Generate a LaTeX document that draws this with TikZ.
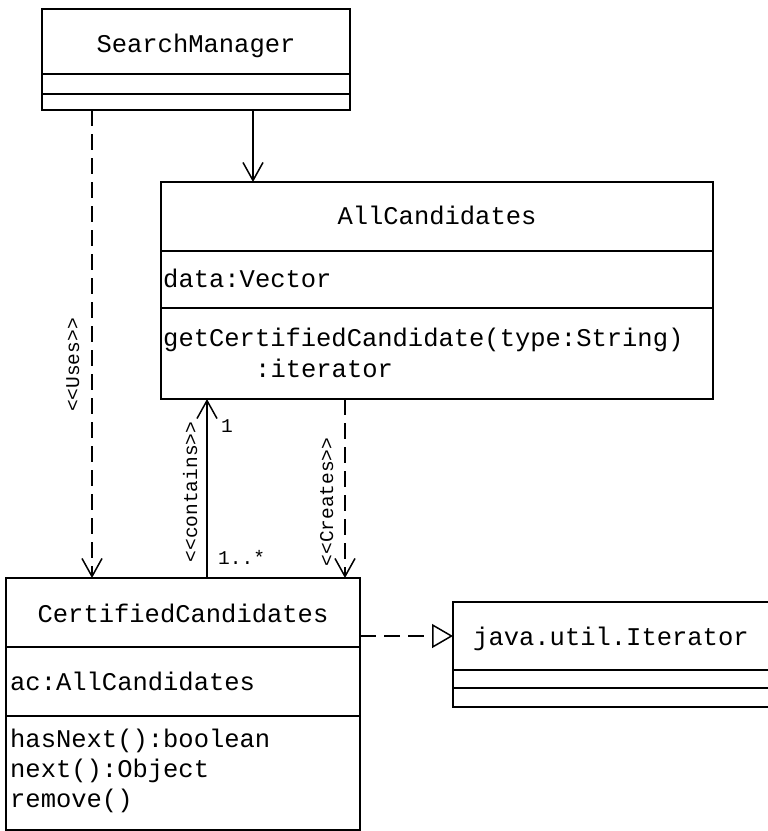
\documentclass[tikz,border=0pt]{standalone}
\usepackage{fontspec}
\newfontfamily\cour{Liberation Mono}
\usetikzlibrary{arrows.meta}
\tikzset{
  umlbox/.style={draw, line width=1.5pt, inner sep=0pt, outer sep=0pt, anchor=north west},
  bigtext/.style={font=\cour\fontsize{25.5pt}{30pt}\selectfont, inner sep=0pt},
  smalltext/.style={font=\cour\fontsize{19.5pt}{23pt}\selectfont, inner sep=0pt},
  assoc/.style={line width=1.5pt, -{Straight Barb[length=18pt,width=20pt,line width=1.5pt]}},
  depend/.style={line width=1.5pt, dash pattern=on 16pt off 8pt, -{Straight Barb[length=18pt,width=20pt,line width=1.5pt]}},
  realize/.style={line width=1.5pt, dash pattern=on 16pt off 8pt, -{Triangle[open,length=21pt,width=24pt,line width=1.5pt]}}
}
\begin{document}
\begin{tikzpicture}[x=1pt,y=-1pt]
\useasboundingbox (0,0) rectangle (768,831);

% SearchManager
\node[umlbox, minimum width=308pt, minimum height=101pt] (sm) at (42,9) {};
\draw[line width=1.5pt] ([yshift=-65pt]sm.north west) -- ([yshift=-65pt]sm.north east);
\draw[line width=1.5pt] ([yshift=-85pt]sm.north west) -- ([yshift=-85pt]sm.north east);
\node[bigtext, anchor=base] (smt) at (196,52.5) {SearchManager};

% AllCandidates
\node[umlbox, minimum width=552pt, minimum height=217pt] (ac) at (161,182) {};
\draw[line width=1.5pt] ([yshift=-69pt]ac.north west) -- ([yshift=-69pt]ac.north east);
\draw[line width=1.5pt] ([yshift=-126pt]ac.north west) -- ([yshift=-126pt]ac.north east);
\node[bigtext, anchor=base] (act) at (437,224) {AllCandidates};
\node[bigtext, anchor=base west] (aca) at (163,287) {data:Vector};
\node[bigtext, anchor=base west] (acm1) at (163,346) {getCertifiedCandidate(type:String)};
\node[bigtext, anchor=base west] (acm2) at (255,377) {:iterator};

% CertifiedCandidates
\node[umlbox, minimum width=354pt, minimum height=252pt] (cc) at (6,578) {};
\draw[line width=1.5pt] ([yshift=-69pt]cc.north west) -- ([yshift=-69pt]cc.north east);
\draw[line width=1.5pt] ([yshift=-138pt]cc.north west) -- ([yshift=-138pt]cc.north east);
\node[bigtext, anchor=base] (cct) at (183,622) {CertifiedCandidates};
\node[bigtext, anchor=base west] (cca) at (10,690) {ac:AllCandidates};
\node[bigtext, anchor=base west] (ccm1) at (10,747) {hasNext():boolean};
\node[bigtext, anchor=base west] (ccm2) at (10,777) {next():Object};
\node[bigtext, anchor=base west] (ccm3) at (10,807) {remove()};

% java.util.Iterator
\node[umlbox, minimum width=330pt, minimum height=105pt] (it) at (453,602) {};
\draw[line width=1.5pt] ([yshift=-68pt]it.north west) -- ([yshift=-68pt]it.north east);
\draw[line width=1.5pt] ([yshift=-86pt]it.north west) -- ([yshift=-86pt]it.north east);
\node[bigtext, anchor=base west] (itt) at (473,645) {java.util.Iterator};

% connector x positions
\coordinate (xnav) at (253,0);
\coordinate (xuses) at (92,0);
\coordinate (xcont) at (207,0);
\coordinate (xcre) at (345,0);
\coordinate (yreal) at (0,636);

% SearchManager -> AllCandidates
\draw[assoc] (sm.south -| xnav) -- (ac.north -| xnav);
% Uses
\draw[depend] (sm.south -| xuses) -- (cc.north -| xuses);
\node[smalltext, rotate=90, anchor=base] (luses) at (79,365) {<<Uses>>};
% contains
\draw[assoc] (cc.north -| xcont) -- (ac.south -| xcont);
\node[smalltext, rotate=90, anchor=base] (lcont) at (197,492) {<<contains>>};
\node[smalltext, anchor=base west] (m1) at (221,432) {1};
\node[smalltext, anchor=base west] (m2) at (218,564) {1..*};
% Creates
\draw[depend] (ac.south -| xcre) -- (cc.north -| xcre);
\node[smalltext, rotate=90, anchor=base] (lcre) at (333,502) {<<Creates>>};
% realization
\draw[realize] (cc.east |- yreal) -- (it.west |- yreal);
\end{tikzpicture}
\end{document}
